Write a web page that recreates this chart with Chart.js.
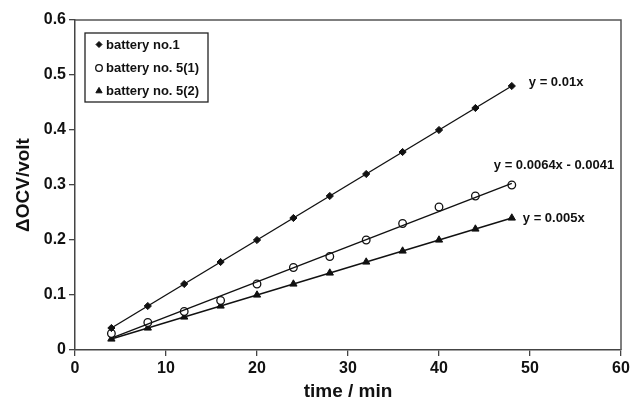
<!DOCTYPE html>
<html>
<head>
<meta charset="utf-8">
<script src="https://cdn.jsdelivr.net/npm/chart.js@4/dist/chart.umd.min.js"></script>
<style>
  html, body { margin: 0; padding: 0; background: #fff; }
  #wrap { width: 634px; height: 403px; position: relative; }
</style>
</head>
<body>
<div id="wrap"><canvas id="c"></canvas></div>
<script>
// ---- data ----
const timeMin = [4, 8, 12, 16, 20, 24, 28, 32, 36, 40, 44, 48];
const battery1 = [0.04, 0.08, 0.12, 0.16, 0.20, 0.24, 0.28, 0.32, 0.36, 0.40, 0.44, 0.48];
const battery5a = [0.03, 0.05, 0.07, 0.09, 0.12, 0.15, 0.17, 0.20, 0.23, 0.26, 0.28, 0.30];
const battery5b = [0.02, 0.04, 0.06, 0.08, 0.10, 0.12, 0.14, 0.16, 0.18, 0.20, 0.22, 0.24];
const seriesLabels = ['battery no.1', 'battery no. 5(1)', 'battery no. 5(2)'];
const fitX = [4, 48];
const fit1 = [0.04, 0.48];
const fit5a = [0.0215, 0.303];
const fit5b = [0.02, 0.24];
const equations = ['y = 0.01x', 'y = 0.0064x - 0.0041', 'y = 0.005x'];
const xTicks = [0, 10, 20, 30, 40, 50, 60];
const yTicks = [0, 0.1, 0.2, 0.3, 0.4, 0.5, 0.6];

const pts = (xs, ys) => xs.map((x, i) => ({ x: x, y: ys[i] }));
const FONT = "'Liberation Sans', Arial, Helvetica, sans-serif";
const INK = '#111';

const markerStyles = [
  { pointStyle: 'rectRot', pointRadius: 3.6, backgroundColor: '#111', borderColor: '#111', borderWidth: 1 },
  { pointStyle: 'circle', pointRadius: 3.8, backgroundColor: '#fff', borderColor: '#111', borderWidth: 1.3 },
  { pointStyle: 'triangle', pointRadius: 4.2, backgroundColor: '#111', borderColor: '#111', borderWidth: 1 }
];
const legendMarkerRadius = [3, 3.3, 3.6];

const fitStyle = { showLine: true, pointRadius: 0, borderColor: '#111', borderWidth: 1.4, fill: false };

const datasets = [
  Object.assign({ label: 'fit1', data: pts(fitX, fit1) }, fitStyle),
  Object.assign({ label: 'fit5a', data: pts(fitX, fit5a) }, fitStyle),
  Object.assign({ label: 'fit5b', data: pts(fitX, fit5b) }, fitStyle),
  Object.assign({ label: seriesLabels[0], data: pts(timeMin, battery1), showLine: false }, markerStyles[0]),
  Object.assign({ label: seriesLabels[1], data: pts(timeMin, battery5a), showLine: false }, markerStyles[1]),
  Object.assign({ label: seriesLabels[2], data: pts(timeMin, battery5b), showLine: false }, markerStyles[2])
];

const overlay = {
  id: 'overlay',
  afterDraw(chart) {
    const ctx = chart.ctx;
    const a = chart.chartArea;
    const xs = chart.scales.x, ys = chart.scales.y;
    ctx.save();
    // frame (top and right)
    ctx.strokeStyle = '#555';
    ctx.lineWidth = 1.5;
    ctx.beginPath();
    ctx.moveTo(a.left, a.top);
    ctx.lineTo(a.right, a.top);
    ctx.lineTo(a.right, a.bottom);
    ctx.stroke();

    // legend box
    const bx = a.left + 10, by = a.top + 13, bw = 123, bh = 69;
    ctx.lineWidth = 1.3;
    ctx.strokeStyle = '#222';
    ctx.fillStyle = '#fff';
    ctx.fillRect(bx, by, bw, bh);
    ctx.strokeRect(bx, by, bw, bh);
    ctx.font = 'bold 13px ' + FONT;
    ctx.textBaseline = 'middle';
    ctx.textAlign = 'left';
    const rowY = [by + 11.5, by + 35, by + 58];
    for (let i = 0; i < 3; i++) {
      const ms = markerStyles[i];
      ctx.fillStyle = ms.backgroundColor;
      ctx.strokeStyle = ms.borderColor;
      ctx.lineWidth = ms.borderWidth;
      Chart.helpers.drawPoint(ctx, { pointStyle: ms.pointStyle, radius: legendMarkerRadius[i], rotation: 0, borderWidth: ms.borderWidth }, bx + 14, rowY[i]);
      ctx.fillStyle = INK;
      ctx.fillText(seriesLabels[i], bx + 21, rowY[i] + 0.5);
    }

    // equation labels, placed beside the last point of each fit line
    const lastX = xs.getPixelForValue(fitX[1]);
    const offs = [[17, -4], [-18, -18], [11, 0]];
    const lastY = [fit1[1], fit5a[1], fit5b[1]];
    for (let i = 0; i < 3; i++) {
      const py = ys.getPixelForValue(lastY[i]);
      ctx.fillStyle = INK;
      ctx.fillText(equations[i], lastX + offs[i][0], py + offs[i][1]);
    }
    ctx.restore();
  }
};

new Chart(document.getElementById('c'), {
  type: 'scatter',
  data: { datasets: datasets },
  options: {
    responsive: true,
    maintainAspectRatio: false,
    animation: false,
    layout: { padding: { top: 20, right: 13, left: 0, bottom: 0 } },
    plugins: {
      legend: { display: false },
      tooltip: { enabled: false }
    },
    scales: {
      x: {
        type: 'linear',
        min: 0, max: 60,
        afterBuildTicks(axis) { axis.ticks = xTicks.map(v => ({ value: v })); },
        afterFit(axis) { axis.height = 53; },
        ticks: { color: INK, font: { family: FONT, size: 16, weight: 'bold' }, padding: 3, maxRotation: 0 },
        grid: { drawOnChartArea: false, drawTicks: true, tickLength: 6, color: '#444', lineWidth: 1.3 },
        border: { display: true, color: '#444', width: 1.5 },
        title: { display: true, text: 'time / min', color: INK, font: { family: FONT, size: 19, weight: 'bold' }, padding: { top: 1, bottom: 0 } }
      },
      y: {
        type: 'linear',
        min: 0, max: 0.6,
        afterBuildTicks(axis) { axis.ticks = yTicks.map(v => ({ value: v })); },
        afterFit(axis) { axis.width = 75; },
        ticks: { color: INK, font: { family: FONT, size: 16, weight: 'bold' }, padding: 3,
                 callback: v => String(Math.round(v * 10) / 10) },
        grid: { drawOnChartArea: false, drawTicks: true, tickLength: 6, color: '#444', lineWidth: 1.3 },
        border: { display: true, color: '#444', width: 1.5 },
        title: { display: true, text: 'ΔOCV/volt', color: INK, font: { family: FONT, size: 19, weight: 'bold' }, padding: { top: 12, bottom: 0 } }
      }
    }
  },
  plugins: [overlay]
});
</script>
</body>
</html>
